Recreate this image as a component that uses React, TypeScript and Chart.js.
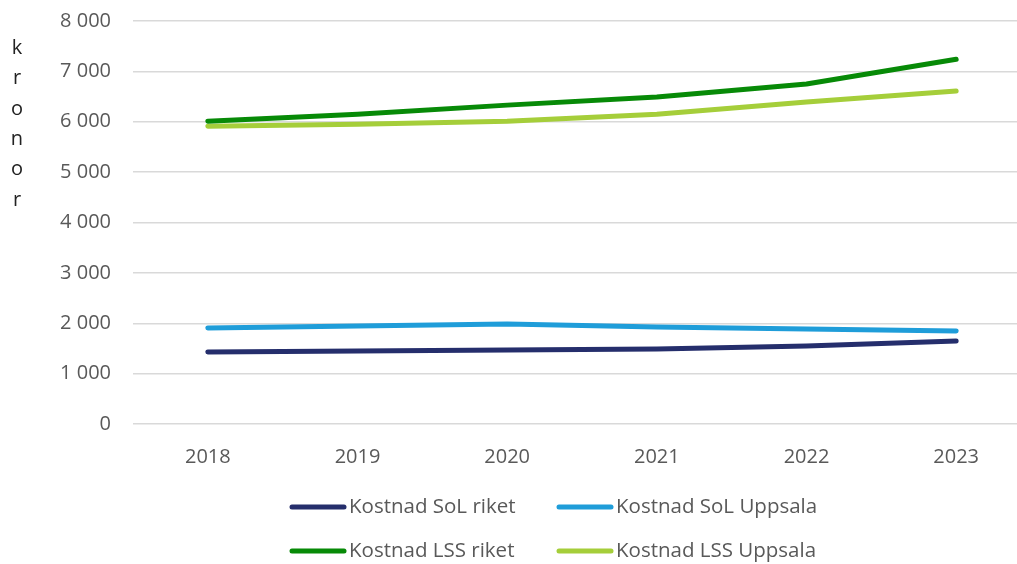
import React, { useEffect, useRef } from "react";
import { Chart, registerables } from "chart.js";

Chart.register(...registerables);

const years = ["2018", "2019", "2020", "2021", "2022", "2023"];
const solRiket = [1430, 1450, 1470, 1490, 1550, 1650];
const solUppsala = [1905, 1945, 1985, 1925, 1885, 1845];
const lssRiket = [6010, 6150, 6330, 6490, 6750, 7240];
const lssUppsala = [5910, 5950, 6010, 6150, 6390, 6610];
const seriesLabels = ["Kostnad SoL riket", "Kostnad SoL Uppsala", "Kostnad LSS riket", "Kostnad LSS Uppsala"];
const seriesColors = ["#252E6C", "#1F9DD9", "#078A07", "#A5CE3A"];
const axisTitleLetters = ["k", "r", "o", "n", "o", "r"];

const FONT = "'Open Sans', sans-serif";

const axisTitlePlugin = {
  id: "axisTitleLetters",
  afterDraw(chart: any) {
    const ctx = chart.ctx;
    ctx.save();
    ctx.font = `20px ${FONT}`;
    ctx.fillStyle = "#222222";
    ctx.textAlign = "center";
    ctx.textBaseline = "middle";
    axisTitleLetters.forEach((l, i) => {
      ctx.fillText(l, 17, 48 + i * 30.4);
    });
    ctx.restore();
  },
};

const legendPlugin = {
  id: "gridLegend",
  afterDraw(chart: any) {
    const ctx = chart.ctx;
    ctx.save();
    ctx.font = `20.5px ${FONT}`;
    ctx.textBaseline = "middle";
    ctx.textAlign = "left";
    chart.data.datasets.forEach((ds: any, i: number) => {
      const col = i % 2;
      const row = Math.floor(i / 2);
      const x = 292 + col * 267;
      const y = 507 + row * 44;
      ctx.strokeStyle = ds.borderColor;
      ctx.lineWidth = 5;
      ctx.lineCap = "round";
      ctx.beginPath();
      ctx.moveTo(x, y);
      ctx.lineTo(x + 52, y);
      ctx.stroke();
      ctx.fillStyle = "#595959";
      ctx.fillText(ds.label, x + 57, y);
    });
    ctx.restore();
  },
};

export default function App() {
  const ref = useRef<HTMLCanvasElement>(null);
  useEffect(() => {
    const values = [solRiket, solUppsala, lssRiket, lssUppsala];
    const chart = new Chart(ref.current!, {
      type: "line",
      data: {
        labels: years,
        datasets: values.map((v, i) => ({
          label: seriesLabels[i],
          data: v,
          borderColor: seriesColors[i],
          backgroundColor: seriesColors[i],
          borderWidth: 5,
          borderCapStyle: "round",
          borderJoinStyle: "round",
          pointRadius: 0,
          tension: 0,
        })),
      },
      options: {
        animation: false,
        responsive: false,
        maintainAspectRatio: false,
        layout: { padding: { top: 21, left: 0, right: 0, bottom: 0 } },
        plugins: { legend: { display: false }, tooltip: { enabled: false } },
        scales: {
          x: {
            offset: true,
            grid: { display: false, drawTicks: false },
            border: { display: false },
            ticks: { color: "#595959", font: { family: FONT, size: 20 }, padding: 21 },
            afterFit(scale: any) {
              scale.height = 140;
            },
          },
          y: {
            min: 0,
            max: 8000,
            ticks: {
              stepSize: 1000,
              color: "#595959",
              font: { family: FONT, size: 20 },
              padding: 22,
              callback: (v: any) => String(v).replace(/\B(?=(\d{3})+(?!\d))/g, " "),
            },
            grid: { color: "#D9D9D9", lineWidth: 1.5, drawTicks: false },
            border: { display: false },
            afterFit(scale: any) {
              scale.width = 133;
              scale.paddingTop = 0;
              scale.paddingBottom = 0;
            },
          },
        },
      },
      plugins: [axisTitlePlugin, legendPlugin],
    } as any);
    return () => chart.destroy();
  }, []);
  return (
    <div style={{ position: "fixed", left: 0, top: 0, width: 1031, height: 564, background: "#fff" }}>
      <canvas ref={ref} width={1031} height={564} style={{ display: "block" }} />
    </div>
  );
}
